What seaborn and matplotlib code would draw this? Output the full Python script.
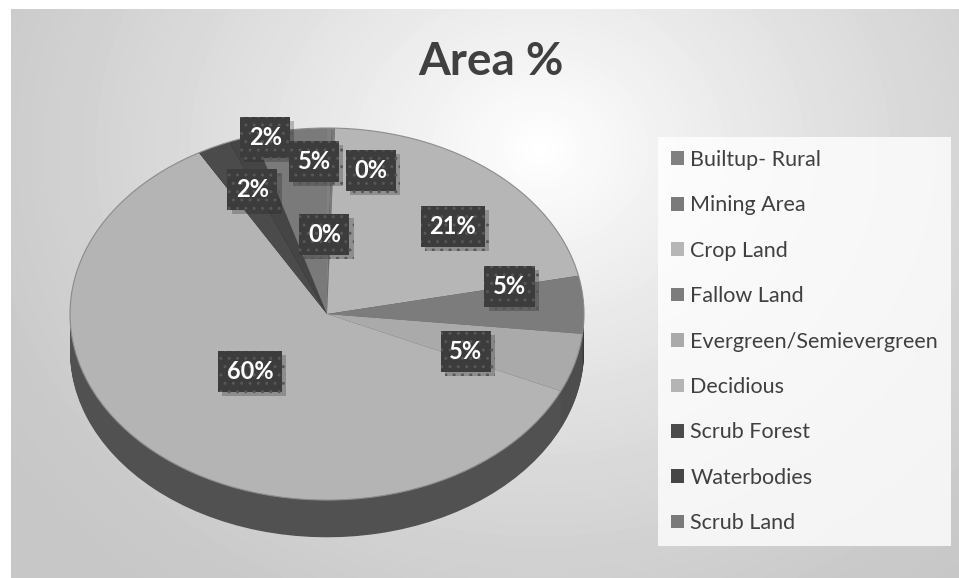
import numpy as np
import matplotlib.pyplot as plt
import matplotlib.patheffects as pe
from matplotlib.patches import Rectangle
from matplotlib.transforms import ScaledTranslation
import seaborn as sns

# land use classes and their share of total area (%)
categories = ['Builtup- Rural', 'Mining Area', 'Crop Land', 'Fallow Land',
              'Evergreen/Semievergreen', 'Decidious', 'Scrub Forest',
              'Waterbodies', 'Scrub Land']
shares = [0.3, 0.2, 21.2, 5.0, 5.1, 59.9, 2.1, 1.6, 4.6]
gray_colors = ['#808080', '#7a7a7a', '#b6b6b6', '#7c7c7c', '#aaaaaa',
               '#b4b4b4', '#4b4b4b', '#454545', '#7a7a7a']

# where the Excel-style data labels sit (pie units)
label_xy = [(0.17, 0.77), (-0.01, 0.43), (0.49, 0.47), (0.71, 0.15),
            (0.54, -0.2), (-0.30, -0.31), (-0.29, 0.67), (-0.24, 0.95),
            (-0.05, 0.82)]

sns.set_theme(style='white')
plt.rcParams['font.family'] = ['Lato', 'DejaVu Sans']

W, H = 959, 578
fig = plt.figure(figsize=(W / 100, H / 100), dpi=100)
fig.patch.set_facecolor('white')

# --- chart background: soft radial gradient ---
bg = fig.add_axes([11 / W, 0, 1 - 11 / W, 1 - 9 / H])
yy, xx = np.mgrid[9:H, 11:W]
dist = np.sqrt(((xx - 540) / 1.15) ** 2 + (yy - 150) ** 2)
shade = np.clip(1 - dist / 560, 0, 1) ** 1.3
grad = 0.78 + 0.22 * shade
bg.imshow(grad, cmap='gray', vmin=0, vmax=1, aspect='auto',
          extent=(0, 1, 0, 1), interpolation='bilinear')
bg.set_axis_off()

# --- pseudo 3D pie ---
ax = fig.add_axes([70 / W, 37 / H, 514 / W, 413 / H])
side_colors = [tuple(c * 0.45 for c in sns.color_palette([g])[0]) for g in gray_colors]
for d in np.linspace(0.2, 0.004, 45):
    ax.pie(shares, colors=side_colors, startangle=90, counterclock=False,
           center=(0, -d), wedgeprops=dict(linewidth=0))
wedges, _ = ax.pie(shares, colors=gray_colors, startangle=90, counterclock=False,
                   wedgeprops=dict(linewidth=0))
ax.pie([1], colors=['none'], wedgeprops=dict(linewidth=0.8, edgecolor='#8c8c8c'))
ax.set_aspect('auto')
ax.set_xlim(-1, 1)
ax.set_ylim(-1.22, 1)
ax.set_axis_off()

# data labels: white bold text on dark dotted boxes with a drop shadow
texts = []
for (x, y), v in zip(label_xy, shares):
    t = ax.text(x, y, f'{round(v):.0f}%', ha='center', va='center',
                fontsize=17, fontweight='bold', color='white', zorder=11,
                clip_on=False)
    texts.append(t)
fig.canvas.draw()
for t in texts:
    ext = t.get_window_extent()
    bw = (ext.width + 17) / 100
    bh = 41 / 100
    x, y = t.get_position()
    trans = fig.dpi_scale_trans + ScaledTranslation(x, y, ax.transData)
    box = Rectangle((-bw / 2, -bh / 2), bw, bh, transform=trans,
                    fc='#3c3c3c', ec='#575757', lw=0, hatch='..', zorder=10,
                    clip_on=False)
    box.set_path_effects([pe.withSimplePatchShadow(offset=(3, -3), shadow_rgbFace='k',
                                                   alpha=0.25), pe.Normal()])
    ax.add_patch(box)

# --- legend ---
leg = fig.legend(wedges, categories, loc='upper left',
                 bbox_to_anchor=(658 / W, 1 - 137 / H), borderaxespad=0,
                 fontsize=15.5, frameon=True, fancybox=False,
                 handlelength=0.6, handleheight=0.6, handletextpad=0.3,
                 labelspacing=1.18, borderpad=0.6)
leg.get_frame().set_facecolor((1, 1, 1, 0.3))
leg.get_frame().set_linewidth(0)
for txt in leg.get_texts():
    txt.set_color('#404040')

fig.text(491 / W, 1 - 62 / H, 'Area %', ha='center', va='center',
         fontsize=33, fontweight='bold', color='#404040')

fig.savefig('out.png', dpi=100)
